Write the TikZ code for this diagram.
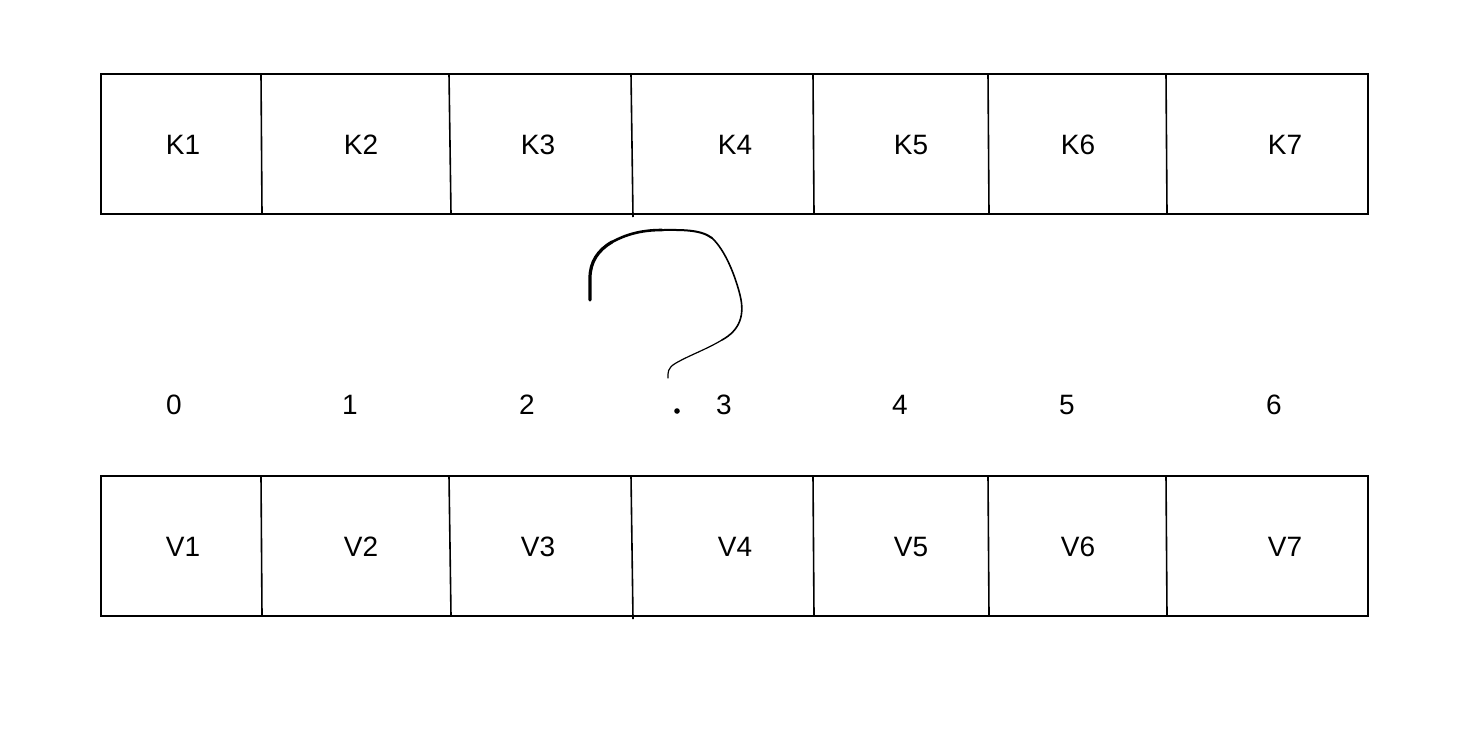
\documentclass[tikz,border=0pt]{standalone}
\usepackage{fontspec}
\setmainfont{Liberation Sans}
\begin{document}
\begin{tikzpicture}[x=1pt,y=-1pt,
  cellline/.style={draw=black,line width=2pt},
  divline/.style={draw=black,line width=1.6pt},
  lbl/.style={font=\fontsize{28}{30}\selectfont,inner sep=0pt,anchor=center},
  qmark/.style={draw=black,line cap=round,line join=round}]
\useasboundingbox[fill=white] (0,0) rectangle (1482,742);
% top row (keys)
\draw[cellline] (101,74) rectangle (1368,214);
\draw[divline] (261,74) -- (262,214);
\draw[divline] (449,74) -- (451,214);
\draw[divline] (631,74) -- (633,217);
\draw[divline] (813,74) -- (814,214);
\draw[divline] (988,74) -- (989,214);
\draw[divline] (1166,74) -- (1167,214);
\node[lbl] (k1) at (183,145) {K1};
\node[lbl] (k2) at (361,145) {K2};
\node[lbl] (k3) at (538,145) {K3};
\node[lbl] (k4) at (735,145) {K4};
\node[lbl] (k5) at (911,145) {K5};
\node[lbl] (k6) at (1078,145) {K6};
\node[lbl] (k7) at (1285,145) {K7};
% indices
\node[lbl] (i0) at (174,405) {0};
\node[lbl] (i1) at (350,405) {1};
\node[lbl] (i2) at (527,405) {2};
\node[lbl] (i3) at (724,405) {3};
\node[lbl] (i4) at (900,405) {4};
\node[lbl] (i5) at (1067,405) {5};
\node[lbl] (i6) at (1274,405) {6};
% bottom row (values)
\draw[cellline] (101,476) rectangle (1368,616);
\draw[divline] (261,476) -- (262,616);
\draw[divline] (449,476) -- (451,616);
\draw[divline] (631,476) -- (633,619);
\draw[divline] (813,476) -- (814,616);
\draw[divline] (988,476) -- (989,616);
\draw[divline] (1166,476) -- (1167,616);
\node[lbl] (v1) at (183,547) {V1};
\node[lbl] (v2) at (361,547) {V2};
\node[lbl] (v3) at (538,547) {V3};
\node[lbl] (v4) at (735,547) {V4};
\node[lbl] (v5) at (911,547) {V5};
\node[lbl] (v6) at (1078,547) {V6};
\node[lbl] (v7) at (1285,547) {V7};
% hand-drawn question mark
\draw[qmark,line width=3.2pt] (590,300) -- (590,278) .. controls (590,262) and (598,250) .. (612,242);
\draw[qmark,line width=2.6pt] (612,242) .. controls (625,235) and (640,230) .. (662,230);
\draw[qmark,line width=2pt] (662,230) .. controls (680,230) and (700,229) .. (712,238);
\draw[qmark,line width=1.6pt] (712,238) .. controls (725,250) and (735,275) .. (740,295)
  .. controls (745,315) and (740,330) .. (722,340);
\draw[qmark,line width=1.2pt] (722,340) .. controls (705,350) and (690,355) .. (676,363)
  .. controls (667,368) and (668,373) .. (668,378);
\fill[black] (677,411) circle (2.8pt);
\end{tikzpicture}
\end{document}
